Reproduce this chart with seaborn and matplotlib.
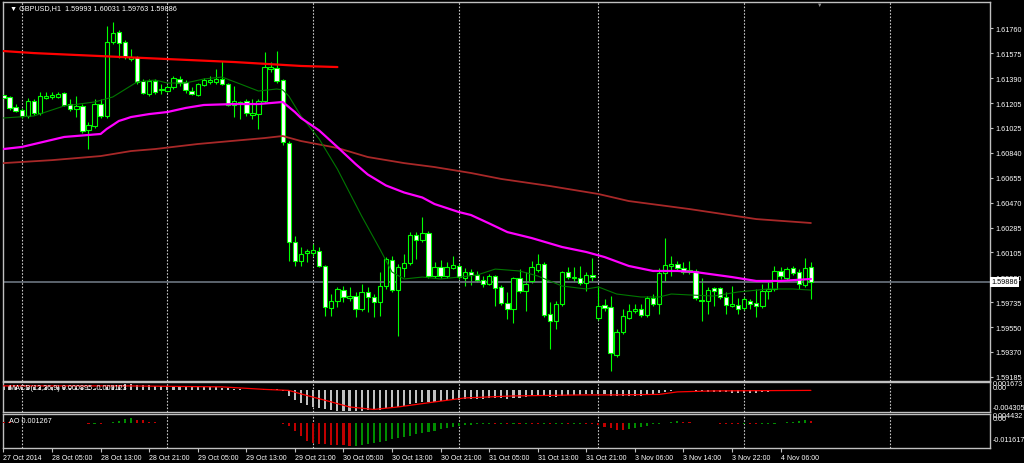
import matplotlib
matplotlib.use("Agg")
import numpy as np
import pandas as pd
import seaborn as sns
from matplotlib import pyplot as plt

# GBPUSD H1, bar 0 = 27 Oct 2014 21:00
opens = [1.61266, 1.61251, 1.61177, 1.61155, 1.61111, 1.61222, 1.61133, 1.61244, 1.61251, 1.61251,
         1.61280, 1.61199, 1.61162, 1.61185, 1.61007, 1.61037, 1.61199, 1.61111, 1.61657, 1.61731,
         1.61657, 1.61531, 1.61546, 1.61369, 1.61273, 1.61369, 1.61303, 1.61295, 1.61325, 1.61384,
         1.61362, 1.61295, 1.61266, 1.61339, 1.61362, 1.61362, 1.61384, 1.61347, 1.61192, 1.61214,
         1.61222, 1.61118, 1.61125, 1.61222, 1.61457, 1.61465, 1.61376, 1.60912, 1.60181, 1.60041,
         1.60100, 1.60100, 1.60114, 1.60004, 1.59693, 1.59745, 1.59826, 1.59767, 1.59782, 1.59686,
         1.59812, 1.59775, 1.59738, 1.59856, 1.60048, 1.59826, 1.59989, 1.60026, 1.60232, 1.60195,
         1.60247, 1.59930, 1.59996, 1.59930, 1.59989, 1.60004, 1.59915, 1.59959, 1.59937, 1.59900,
         1.59871, 1.59930, 1.59849, 1.59730, 1.59686, 1.59915, 1.59819, 1.59893, 1.59974, 1.60018,
         1.59649, 1.59598, 1.59723, 1.59959, 1.59915, 1.59915, 1.59878, 1.59937, 1.59620, 1.59716,
         1.59701, 1.59347, 1.59517, 1.59620, 1.59671, 1.59686, 1.59642, 1.59767, 1.59723, 1.59952,
         1.60004, 1.60018, 1.59989, 1.59959, 1.59967, 1.59753, 1.59745, 1.59841, 1.59841, 1.59775,
         1.59708, 1.59716, 1.59693, 1.59745, 1.59730, 1.59708, 1.59819, 1.59834, 1.59967, 1.59915,
         1.59989, 1.59959, 1.59863, 1.59993]
highs = [1.61280, 1.61258, 1.61199, 1.61170, 1.61244, 1.61236, 1.61288, 1.61288, 1.61288, 1.61288,
         1.61288, 1.61236, 1.61258, 1.61199, 1.61066, 1.61236, 1.61236, 1.61775, 1.61804, 1.61745,
         1.61672, 1.61605, 1.61553, 1.61384, 1.61384, 1.61384, 1.61347, 1.61339, 1.61406, 1.61406,
         1.61376, 1.61325, 1.61354, 1.61391, 1.61406, 1.61457, 1.61516, 1.61354, 1.61332, 1.61222,
         1.61236, 1.61236, 1.61236, 1.61583, 1.61509, 1.61590, 1.61384, 1.60926, 1.60225, 1.60144,
         1.60129, 1.60166, 1.60144, 1.60011, 1.59797, 1.59849, 1.59856, 1.59849, 1.59812, 1.59871,
         1.59849, 1.59797, 1.59959, 1.60070, 1.60077, 1.60018, 1.60092, 1.60254, 1.60254, 1.60365,
         1.60262, 1.60033, 1.60048, 1.60033, 1.60077, 1.60018, 1.59989, 1.59981, 1.59967, 1.59930,
         1.59945, 1.59937, 1.59863, 1.59812, 1.59922, 1.59981, 1.59959, 1.60041, 1.60092, 1.60033,
         1.59738, 1.59745, 1.59967, 1.59996, 1.59996, 1.60004, 1.59959, 1.60063, 1.59856, 1.59760,
         1.59782, 1.59539, 1.59686, 1.59723, 1.59723, 1.59723, 1.59782, 1.59797, 1.59989, 1.60210,
         1.60077, 1.60041, 1.60033, 1.60041, 1.59981, 1.59915, 1.59849, 1.59849, 1.59849, 1.59812,
         1.59856, 1.59767, 1.59775, 1.59760, 1.59834, 1.59871, 1.59886, 1.60004, 1.59996, 1.59996,
         1.60004, 1.59981, 1.60063, 1.60031]
lows = [1.61229, 1.61155, 1.61140, 1.61096, 1.61096, 1.61118, 1.61118, 1.61236, 1.61236, 1.61244,
        1.61185, 1.61148, 1.61103, 1.60985, 1.60867, 1.61022, 1.61096, 1.61096, 1.61642, 1.61539,
        1.61531, 1.61516, 1.61347, 1.61273, 1.61258, 1.61273, 1.61273, 1.61288, 1.61310, 1.61332,
        1.61280, 1.61266, 1.61258, 1.61332, 1.61347, 1.61347, 1.61339, 1.61185, 1.61103, 1.61088,
        1.61111, 1.61088, 1.61015, 1.61207, 1.61435, 1.61354, 1.60897, 1.60041, 1.60004, 1.60004,
        1.60033, 1.60077, 1.59996, 1.59634, 1.59634, 1.59701, 1.59738, 1.59745, 1.59627, 1.59671,
        1.59664, 1.59627, 1.59634, 1.59834, 1.59812, 1.59487, 1.59922, 1.60011, 1.60055, 1.60181,
        1.59915, 1.59915, 1.59915, 1.59915, 1.59981, 1.59908, 1.59856, 1.59863, 1.59886, 1.59849,
        1.59863, 1.59708, 1.59716, 1.59612, 1.59583, 1.59804, 1.59671, 1.59878, 1.59959, 1.59627,
        1.59391, 1.59539, 1.59708, 1.59908, 1.59886, 1.59863, 1.59819, 1.59893, 1.59605, 1.59671,
        1.59229, 1.59332, 1.59502, 1.59612, 1.59657, 1.59627, 1.59627, 1.59708, 1.59649, 1.59893,
        1.59930, 1.59967, 1.59945, 1.59945, 1.59753, 1.59598, 1.59649, 1.59708, 1.59760, 1.59649,
        1.59701, 1.59649, 1.59679, 1.59686, 1.59627, 1.59693, 1.59760, 1.59819, 1.59908, 1.59900,
        1.59937, 1.59834, 1.59849, 1.59763]
closes = [1.61244, 1.61170, 1.61148, 1.61111, 1.61222, 1.61133, 1.61258, 1.61258, 1.61266, 1.61273,
          1.61192, 1.61162, 1.61185, 1.61000, 1.61044, 1.61199, 1.61111, 1.61657, 1.61723, 1.61649,
          1.61546, 1.61546, 1.61362, 1.61280, 1.61369, 1.61288, 1.61310, 1.61325, 1.61391, 1.61354,
          1.61303, 1.61273, 1.61347, 1.61376, 1.61376, 1.61384, 1.61347, 1.61192, 1.61222, 1.61207,
          1.61133, 1.61133, 1.61222, 1.61472, 1.61472, 1.61369, 1.60919, 1.60181, 1.60041, 1.60092,
          1.60114, 1.60122, 1.60004, 1.59701, 1.59745, 1.59834, 1.59775, 1.59782, 1.59686, 1.59812,
          1.59775, 1.59738, 1.59856, 1.60055, 1.59826, 1.59996, 1.60026, 1.60232, 1.60195, 1.60247,
          1.59930, 1.59996, 1.59930, 1.59996, 1.60011, 1.59922, 1.59959, 1.59937, 1.59900, 1.59871,
          1.59930, 1.59841, 1.59730, 1.59686, 1.59915, 1.59819, 1.59871, 1.59996, 1.60018, 1.59642,
          1.59598, 1.59723, 1.59959, 1.59922, 1.59922, 1.59878, 1.59937, 1.59922, 1.59708, 1.59693,
          1.59361, 1.59517, 1.59634, 1.59671, 1.59686, 1.59642, 1.59767, 1.59723, 1.59952, 1.60011,
          1.60018, 1.59989, 1.59959, 1.59974, 1.59767, 1.59745, 1.59826, 1.59819, 1.59775, 1.59716,
          1.59723, 1.59686, 1.59760, 1.59723, 1.59708, 1.59819, 1.59834, 1.59967, 1.59930, 1.59981,
          1.59952, 1.59871, 1.59989, 1.59886]

# moving averages (bar index, price)
green_bars = [0, 5, 10, 15, 18, 22, 25, 27, 30, 33, 36, 39, 42, 45, 46, 47, 49, 52, 55, 59, 62, 64, 66,
              69, 72, 75, 78, 81, 85, 88, 92, 96, 98, 101, 105, 108, 110, 113, 117, 121, 126, 130, 133]
green_ma = [1.61096, 1.61111, 1.61185, 1.61214, 1.61251, 1.61362, 1.61376, 1.61354, 1.61354, 1.61384,
            1.61398, 1.61347, 1.61295, 1.61310, 1.61303, 1.61258, 1.61111, 1.60941, 1.60719, 1.60372,
            1.60129, 1.59959, 1.59908, 1.59922, 1.59908, 1.59922, 1.59937, 1.59981, 1.59967, 1.59930,
            1.59856, 1.59834, 1.59849, 1.59797, 1.59775, 1.59775, 1.59797, 1.59790, 1.59782, 1.59812,
            1.59834, 1.59834, 1.59826]
magenta_bars = [0, 3, 10, 16, 17, 18, 19, 20, 21, 24, 27, 30, 33, 38, 42, 46, 47, 48, 49, 52, 55, 58,
                60, 63, 66, 69, 71, 75, 77, 80, 83, 87, 92, 96, 99, 103, 107, 111, 114, 120, 124, 128, 133]
magenta_ma = [1.60867, 1.60882, 1.60956, 1.60978, 1.61015, 1.61044, 1.61074, 1.61088, 1.61103, 1.61125,
              1.61140, 1.61170, 1.61192, 1.61199, 1.61199, 1.61214, 1.61177, 1.61140, 1.61096, 1.61004,
              1.60882, 1.60756, 1.60679, 1.60598, 1.60546, 1.60509, 1.60461, 1.60402, 1.60380, 1.60318,
              1.60254, 1.60210, 1.60144, 1.60107, 1.60070, 1.60004, 1.59967, 1.59967, 1.59959, 1.59922,
              1.59893, 1.59893, 1.59908]
brown_bars = [0, 8, 16, 21, 25, 32, 43, 46, 49, 55, 60, 66, 71, 77, 82, 90, 98, 103, 113, 124, 133]
brown_ma = [1.60763, 1.60785, 1.60815, 1.60852, 1.60867, 1.60904, 1.60948, 1.60963, 1.60926, 1.60875,
            1.60808, 1.60763, 1.60734, 1.60690, 1.60646, 1.60594, 1.60535, 1.60483, 1.60424, 1.60350,
            1.60321]
red_bars = [0, 5, 16, 27, 38, 49, 55]
red_line = [1.61590, 1.61575, 1.61553, 1.61531, 1.61509, 1.61480, 1.61472]

macd_main = [0.00085, 0.00080, 0.00075, 0.00070, 0.00070, 0.00065, 0.00065, 0.00065, 0.00065, 0.00065,
             0.00060, 0.00055, 0.00050, 0.00040, 0.00030, 0.00030, 0.00030, 0.00060, 0.00090, 0.00110,
             0.00120, 0.00120, 0.00110, 0.00100, 0.00100, 0.00090, 0.00080, 0.00080, 0.00080, 0.00070,
             0.00070, 0.00060, 0.00060, 0.00060, 0.00060, 0.00060, 0.00050, 0.00040, 0.00030, 0.00020,
             0.00010, 0.00000, 0.00000, 0.00020, 0.00030, 0.00030, -0.00020, -0.00120, -0.00200, -0.00260,
             -0.00300, -0.00330, -0.00350, -0.00380, -0.00400, -0.00410, -0.00420, -0.00420, -0.00420, -0.00410,
             -0.00400, -0.00400, -0.00390, -0.00360, -0.00350, -0.00330, -0.00310, -0.00280, -0.00260, -0.00240,
             -0.00240, -0.00230, -0.00220, -0.00200, -0.00190, -0.00190, -0.00180, -0.00170, -0.00170, -0.00170,
             -0.00160, -0.00160, -0.00160, -0.00170, -0.00150, -0.00150, -0.00140, -0.00120, -0.00110, -0.00120,
             -0.00130, -0.00130, -0.00110, -0.00100, -0.00090, -0.00090, -0.00080, -0.00070, -0.00080, -0.00080,
             -0.00110, -0.00120, -0.00120, -0.00110, -0.00110, -0.00110, -0.00100, -0.00090, -0.00060, -0.00030,
             -0.00010, 0.00000, 0.00010, 0.00010, -0.00010, -0.00020, -0.00030, -0.00030, -0.00040, -0.00040,
             -0.00050, -0.00050, -0.00050, -0.00050, -0.00050, -0.00040, -0.00030, -0.00010, 0.00000, 0.00010,
             0.00010, 0.00000, 0.00010, 0.00010]
signal_bars = [0, 20, 28, 36, 43, 47, 49, 54, 57, 61, 65, 71, 76, 84, 95, 100, 108, 111, 117, 133]
macd_signal = [0.0009, 0.0009, 0.0008, 0.0007, 0.0002, 0.0000, -0.0007, -0.0023, -0.0033, -0.0038,
               -0.0033, -0.0023, -0.0015, -0.0011, -0.0009, -0.0009, -0.0008, -0.0003, -0.0001, 0.0000]

ao = [0.0007, 0.0005, 0.0004, 0.0003, 0.0002, 0.0002, 0.0002, 0.0002, 0.0002, 0.0003,
      0.0003, 0.0002, 0.0002, 0.0001, -0.0001, -0.0001, -0.0002, 0.0001, 0.0005, 0.0012,
      0.0019, 0.0024, 0.0018, 0.0014, 0.0008, 0.0005, 0.0003, 0.0002, 0.0003, 0.0002,
      0.0003, 0.0002, 0.0003, 0.0004, 0.0003, 0.0003, 0.0002, 0.0002, 0.0001, 0.0002,
      0.0001, 0.0001, 0.0000, 0.0002, 0.0001, 0.0000, -0.0003, -0.0012, -0.0036, -0.0060,
      -0.0081, -0.0093, -0.0097, -0.0099, -0.0100, -0.0102, -0.0104, -0.0106, -0.0105, -0.0101,
      -0.0096, -0.0091, -0.0087, -0.0081, -0.0075, -0.0069, -0.0064, -0.0058, -0.0052, -0.0046,
      -0.0040, -0.0034, -0.0027, -0.0020, -0.0015, -0.0011, -0.0008, -0.0006, -0.0004, -0.0003,
      -0.0002, -0.0003, -0.0002, -0.0003, -0.0002, -0.0003, -0.0002, -0.0003, -0.0004, -0.0003,
      -0.0004, -0.0003, -0.0002, -0.0003, -0.0002, -0.0001, -0.0002, -0.0003, -0.0008, -0.0015,
      -0.0024, -0.0030, -0.0031, -0.0028, -0.0023, -0.0016, -0.0010, -0.0005, -0.0002, 0.0003,
      0.0007, 0.0009, 0.0008, 0.0006, 0.0004, 0.0002, 0.0001, 0.0000, -0.0001, -0.0002,
      -0.0003, -0.0004, -0.0003, -0.0004, -0.0005, -0.0004, -0.0003, -0.0001, 0.0002, 0.0005,
      0.0008, 0.0011, 0.0014, 0.001267]

price_ticks = [1.61760, 1.61575, 1.61390, 1.61205, 1.61025, 1.60840, 1.60655, 1.60470,
               1.60285, 1.60105, 1.59920, 1.59735, 1.59550, 1.59370, 1.59185]
day_bars = [3, 27, 51, 75, 98, 122, 146]
time_bars = [0, 8, 16, 24, 32, 40, 48, 56, 64, 72, 80, 88, 96, 104, 112, 120, 128]
time_labels = ["27 Oct 2014", "28 Oct 05:00", "28 Oct 13:00", "28 Oct 21:00", "29 Oct 05:00",
               "29 Oct 13:00", "29 Oct 21:00", "30 Oct 05:00", "30 Oct 13:00", "30 Oct 21:00",
               "31 Oct 05:00", "31 Oct 13:00", "31 Oct 21:00", "3 Nov 06:00", "3 Nov 14:00",
               "3 Nov 22:00", "4 Nov 06:00"]

sns.set_theme(style="dark", rc={"axes.facecolor": "black", "figure.facecolor": "black",
                                "axes.edgecolor": "#c0c0c0", "text.color": "white"})
plt.rcParams['font.family'] = ['Liberation Sans', 'DejaVu Sans']

W, H = 1024, 464
fig = plt.figure(figsize=(W / 100, H / 100), dpi=100, facecolor="black")


def panel(top, bottom):
    a = fig.add_axes([3 / W, 1 - bottom / H, 987 / W, (bottom - top) / H])
    a.set_facecolor("black")
    a.grid(False)
    for sp in a.spines.values():
        sp.set_color("#c0c0c0")
        sp.set_linewidth(1.0)
    a.set_xlim(-0.08, 162.5)
    for d in day_bars:
        a.axvline(d, color="#c8c8c8", lw=0.8, ls=(0, (1.5, 1.5)), zorder=1)
    return a


ax = panel(3, 382)
ax_m = panel(383, 413)
ax_a = panel(415, 449)

bars = np.arange(len(closes))
o = np.array(opens)
c = np.array(closes)
up = c >= o
lime = "#00ff00"

# candles
ax.vlines(bars, lows, highs, color=lime, lw=0.8, zorder=2)
ax.bar(bars, np.maximum(np.abs(c - o), 0.00003), bottom=np.minimum(o, c), width=0.72,
       color=np.where(up, "black", "white"), edgecolor=lime, linewidth=0.8, zorder=3)

# indicator lines
sns.lineplot(x=brown_bars, y=brown_ma, ax=ax, color="#a82828", lw=1.3, zorder=4)
sns.lineplot(x=green_bars, y=green_ma, ax=ax, color="#007800", lw=0.8, zorder=4)
sns.lineplot(x=magenta_bars, y=magenta_ma, ax=ax, color="#ff00ff", lw=1.6, zorder=5)
sns.lineplot(x=red_bars, y=red_line, ax=ax, color="#ff0000", lw=1.6, zorder=5)

ax.axhline(closes[-1], color="#6b7580", lw=1.2, zorder=2)
ax.set_ylim(1.59155, 1.61952)
ax.set_xticks([])
ax.yaxis.tick_right()
ax.set_yticks(price_ticks)
ax.set_yticklabels([f"{v:.5f}" for v in price_ticks])
ax.tick_params(axis="y", which="both", right=True, length=2.5, width=0.8, color="#c0c0c0",
               labelcolor="white", labelsize=5.2, pad=1.5, direction="out")
ax.set_xlabel("")
ax.set_ylabel("")

ax.text(1.0015, closes[-1], f"{closes[-1]:.5f}", transform=ax.get_yaxis_transform(),
        ha="left", va="center", fontsize=5.2, color="black", zorder=10, clip_on=False,
        bbox=dict(boxstyle="square,pad=0.15", fc="white", ec="none"))
ax.text(7 / 987, 1 - 6 / 379, "\u25bc GBPUSD,H1  1.59993 1.60031 1.59763 1.59886",
        transform=ax.transAxes, ha="left", va="center", fontsize=5.2, color="white", zorder=10)
ax.text((820 - 3) / 987, 1 - 2 / 379, "\u25bc", transform=ax.transAxes, ha="center",
        va="center", fontsize=4, color="#909090", zorder=10)

# MACD
ax_m.bar(bars, macd_main, width=0.35, color="#c0c0c0", linewidth=0, zorder=3)
sns.lineplot(x=signal_bars, y=macd_signal, ax=ax_m, color="#ff0000", lw=0.9, zorder=4)
ax_m.set_ylim(-0.004305, 0.001673)
ax_m.set_xticks([])
ax_m.set_yticks([])
ax_m.set_xlabel("")
ax_m.set_ylabel("")
ax_m.text(6 / 987, 1 - 6 / 30, "MACD(12,26,9) 0.000895 -0.000123", transform=ax_m.transAxes,
          ha="left", va="center", fontsize=5.2, color="white", zorder=10)

# Awesome oscillator
ao_arr = np.array(ao)
ao_col = ["#c00000" if i > 0 and ao_arr[i] < ao_arr[i - 1] else "#008c00" for i in range(len(ao))]
ao_col[0] = "#c00000"
ax_a.bar(bars, ao, width=0.35, color=ao_col, linewidth=0, zorder=3)
ax_a.set_ylim(-0.011617, 0.004432)
ax_a.set_yticks([])
ax_a.set_xticks(time_bars)
ax_a.set_xticklabels(time_labels, ha="left")
ax_a.tick_params(axis="x", which="both", bottom=True, length=3, width=0.8, color="#c0c0c0",
                 labelcolor="white", labelsize=5.0, pad=1.5, direction="out")
ax_a.set_xlabel("")
ax_a.set_ylabel("")
ax_a.text(6 / 987, 1 - 7 / 34, "AO 0.001267", transform=ax_a.transAxes,
          ha="left", va="center", fontsize=5.2, color="white", zorder=10)

# sub-window scale labels
for txt, y in [("0.001673", 385), ("0.00", 388.5), ("-0.004305", 409),
               ("0.004432", 416.5), ("0.00", 420), ("-0.011617", 441)]:
    fig.text(993 / W, 1 - y / H, txt, ha="left", va="center", fontsize=5.2, color="white")

fig.savefig("out.png", dpi=100, facecolor="black")
